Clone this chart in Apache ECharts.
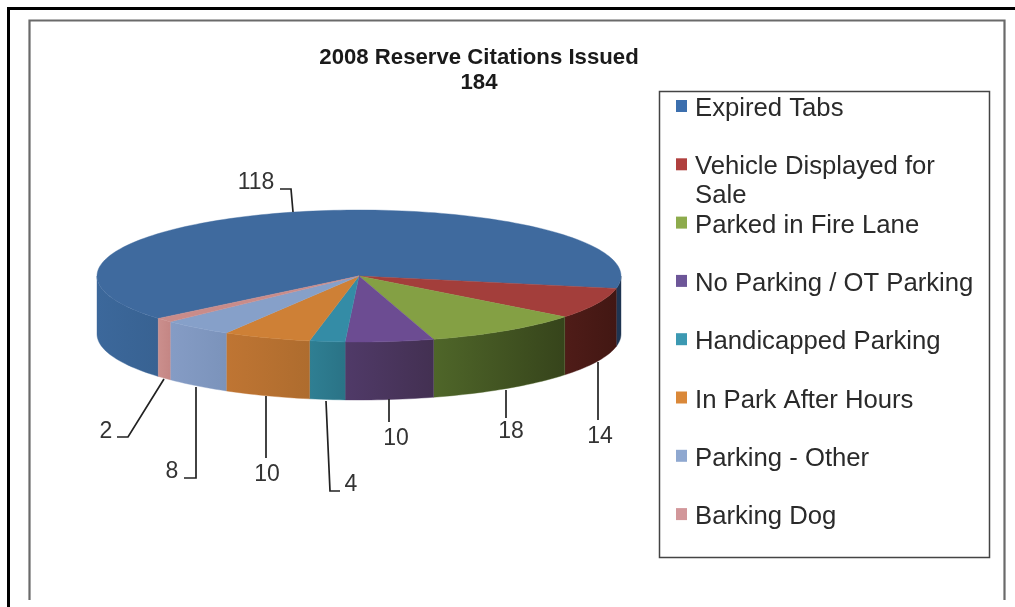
<!DOCTYPE html>
<html><head><meta charset="utf-8">
<style>html,body{margin:0;padding:0;background:#fff}#c{width:1015px;height:607px}</style>
<script src="https://cdn.jsdelivr.net/npm/echarts@6/dist/echarts.min.js"></script>
</head><body><div id="c"></div>
<script>
const categories = ['Expired Tabs','Vehicle Displayed for\nSale','Parked in Fire Lane','No Parking / OT Parking','Handicapped Parking','In Park After Hours','Parking - Other','Barking Dog'];
const values = [118,14,18,10,4,10,8,2];
const titleLines = ['2008 Reserve Citations Issued','184'];
const topColors = ['#3f6a9e','#a33e3b','#84a044','#6c4c92','#348ca6','#ce8036','#86a0c9','#c98c8a'];
const sideLeft = ['#3c689b','#4f1c18','#4f6629','#503a68','#2f7f93','#bf7533','#859cc5','#cb8f8d'];
const sideRight = ['#386292','#421713','#36441b','#433052','#2a7386','#ae6c2e','#7b93bb','#c48684'];
const backSide = '#1f3552';
const legendColors = ['#3c6fae','#b0403e','#8dab4c','#6d5698','#3c99b2','#da8839','#8fa8d0','#d2979a'];
const leaders = [
 {pts:[[293,212],[291,189],[280,189]],label:[256,183]},
 {pts:[[598,362],[598,420]],label:[600,437]},
 {pts:[[506,390],[506,418]],label:[511,432]},
 {pts:[[389,399],[389,422]],label:[396,439]},
 {pts:[[326,401],[330,491],[340,491]],label:[351,485]},
 {pts:[[266,396],[266,458]],label:[267,475]},
 {pts:[[196,387],[196,478],[184,478]],label:[172,472]},
 {pts:[[164,379],[128,437],[117,437]],label:[106,432]}
];
const pie = {cx:359,cy:276,rx:262,ry:66,depth:58,start:140};
const legendLayout = {first:106,pitch:58.3,swatchX:676,textX:695,lineGap:29};
const total = values.reduce((a,b)=>a+b,0);
const textFx = {shadowBlur:1.5,shadowColor:'rgba(0,0,0,0.45)'};

function pt(a,dy){const r=a*Math.PI/180;return [pie.cx+pie.rx*Math.cos(r),pie.cy+pie.ry*Math.sin(r)+(dy||0)];}
function arc(a0,a1,dy){const n=Math.max(2,Math.ceil(Math.abs(a1-a0)/1.5));const p=[];for(let i=0;i<=n;i++)p.push(pt(a0+(a1-a0)*i/n,dy));return p;}
function sideParts(a0,a1){
  const parts=[];
  for(const k of [0,360]){const s=Math.max(a0,k),e=Math.min(a1,k+180);if(e>s)parts.push([s,e,k]);}
  return parts;
}
function renderItem(params,api){
  const i=params.dataIndex;
  let before=0;for(let k=0;k<i;k++)before+=values[k];
  const a0=pie.start+before/total*360, a1=a0+values[i]/total*360;
  const kids=[];
  for(const [s,e,k] of sideParts(a0,a1)){
    const top=arc(s,e,0), bot=arc(e,s,pie.depth);
    const wrapped = (i===0 && k===360);
    kids.push({type:'polygon',shape:{points:top.concat(bot)},
      style:{fill:wrapped?backSide:new echarts.graphic.LinearGradient(0,0,1,0,[{offset:0,color:sideLeft[i]},{offset:1,color:sideRight[i]}]),stroke:wrapped?backSide:sideLeft[i],lineWidth:0.4}});
  }
  kids.push({type:'polygon',shape:{points:[[pie.cx,pie.cy]].concat(arc(a0,a1,0))},style:{fill:topColors[i],stroke:topColors[i],lineWidth:0.4}});
  const l=leaders[i];
  kids.push({type:'polyline',shape:{points:l.pts},style:{stroke:'#222',lineWidth:1.7,fill:null}});
  kids.push({type:'text',style:Object.assign({text:String(api.value(0)),x:l.label[0],y:l.label[1],align:'center',verticalAlign:'middle',font:'23px "Liberation Sans",Arial,sans-serif',fill:'#333'},{shadowBlur:1,shadowColor:'rgba(0,0,0,0.3)'})});
  const ly=legendLayout.first+legendLayout.pitch*i;
  kids.push({type:'rect',shape:{x:legendLayout.swatchX,y:ly-6,width:11,height:12},style:{fill:legendColors[i]}});
  categories[i].split('\n').forEach((t,j)=>kids.push({type:'text',style:Object.assign({text:t,x:legendLayout.textX,y:ly+3+j*legendLayout.lineGap,align:'left',verticalAlign:'middle',font:'25.7px "Liberation Sans",Arial,sans-serif',fill:'#2a2a2a'},textFx)}));
  return {type:'group',children:kids};
}
const chart=echarts.init(document.getElementById('c'),null,{renderer:'canvas'});
chart.setOption({
  animation:false,backgroundColor:'#fff',
  graphic:[
    {type:'polyline',z:-1,shape:{points:[[8.5,607],[8.5,8.5],[1015,8.5]]},style:{fill:null,stroke:'#000',lineWidth:3}},
    {type:'polyline',z:-1,shape:{points:[[29.5,600],[29.5,20.5],[1004.5,20.5],[1004.5,600]]},style:{fill:null,stroke:'#6a6a6a',lineWidth:2.2}},
    {type:'rect',z:-1,shape:{x:659.5,y:91.5,width:330,height:466},style:{fill:'#fff',stroke:'#444',lineWidth:1.5}},
    {type:'text',style:Object.assign({text:titleLines[0],x:479,y:58,align:'center',verticalAlign:'middle',font:'bold 22.2px "Liberation Sans",Arial,sans-serif',fill:'#1a1a1a'},textFx)},
    {type:'text',style:Object.assign({text:titleLines[1],x:479,y:83,align:'center',verticalAlign:'middle',font:'bold 22.2px "Liberation Sans",Arial,sans-serif',fill:'#1a1a1a'},textFx)}
  ],
  series:[{type:'custom',coordinateSystem:'none',renderItem,data:values.map(v=>[v]),clip:false,silent:true}]
});
</script></body></html>
